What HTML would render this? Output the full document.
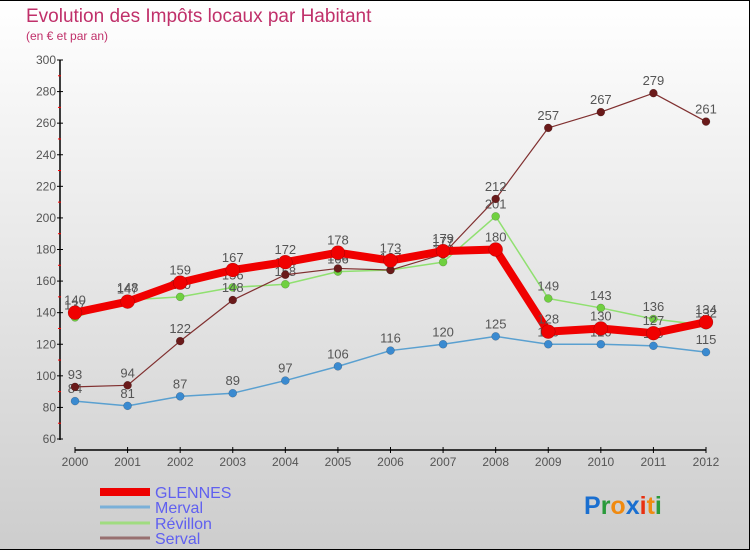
<!DOCTYPE html>
<html><head><meta charset="utf-8"><style>
body{margin:0;padding:0}
#wrap{position:relative;width:750px;height:550px;overflow:hidden}
svg{display:block}
text{font-family:"Liberation Sans",sans-serif}
</style></head><body>
<div id="wrap">
<svg id="chart" width="750" height="550" viewBox="0 0 750 550">
<defs><linearGradient id="bg" x1="0" y1="0" x2="0" y2="1"><stop offset="0" stop-color="#ffffff"/><stop offset="1" stop-color="#cdcdcd"/></linearGradient></defs>
<rect x="0" y="0" width="750" height="550" fill="url(#bg)"/>
<path d="M0,0.5H749.5V549.5H0" fill="none" stroke="#000" stroke-width="1"/>
<text x="26" y="22" font-size="19" fill="#c0306a">Evolution des Impôts locaux par Habitant</text>
<text x="26" y="40" font-size="12" fill="#c0306a">(en € et par an)</text>
<g id="axes"></g>
<g id="series"></g>
<g id="legend"></g>
<text x="584" y="514" font-size="25" font-weight="bold"><tspan fill="#1a6fd0">P</tspan><tspan fill="#2a9a3a">r</tspan><tspan fill="#f08a10">o</tspan><tspan fill="#1a6fd0">x</tspan><tspan fill="#e83010">i</tspan><tspan fill="#f08a10">t</tspan><tspan fill="#2a9a3a">i</tspan></text>
</svg>
</div>
<script>
const years = ['2000','2001','2002','2003','2004','2005','2006','2007','2008','2009','2010','2011','2012'];
const yTicks = [60,80,100,120,140,160,180,200,220,240,260,280,300];
const glennes = [140,147,159,167,172,178,173,179,180,128,130,127,134];
const merval = [84,81,87,89,97,106,116,120,125,120,120,119,115];
const revillon = [137,148,150,156,158,166,167,172,201,149,143,136,132];
const serval = [93,94,122,148,164,168,167,177,212,257,267,279,261];
const seriesNames = ['GLENNES','Merval','Révillon','Serval'];

const NS='http://www.w3.org/2000/svg';
function xPos(i){return 75+i*(706-75)/(years.length-1);}
function yPos(v){return 60+(300-v)*(439-60)/240;}
function mk(tag,attrs,parent){const e=document.createElementNS(NS,tag);for(const k in attrs)e.setAttribute(k,attrs[k]);parent.appendChild(e);return e;}
const axes=document.getElementById('axes');
let yl=mk('line',{x1:60,y1:60,x2:60,y2:440,stroke:'#000','stroke-width':1.5},axes);


yTicks.forEach((t,i)=>{
  const y=yPos(t);
  mk('line',{x1:57,y1:y,x2:63,y2:y,stroke:'#000'},axes);
  const tx=mk('text',{x:56,y:y+4,'font-size':12,fill:'#555','text-anchor':'end'},axes);
  tx.textContent=t;
  
  
  if(i<yTicks.length-1){const ym=yPos(t+10);mk('line',{x1:58,y1:ym,x2:61,y2:ym,stroke:'#f00'},axes);}
});
let xl=mk('line',{x1:75,y1:450,x2:706,y2:450,stroke:'#000','stroke-width':1.5},axes);


years.forEach((yr,i)=>{
  const x=xPos(i);
  mk('line',{x1:x,y1:447,x2:x,y2:453,stroke:'#000'},axes);
  const tx=mk('text',{x:x,y:466,'font-size':12,fill:'#555','text-anchor':'middle'},axes);
  tx.textContent=yr;
  
  
});
const sg=document.getElementById('series');
function drawSeries(vals,color,dot,width,r,name){
  const g=mk('g',{},sg);
  
  
  const pts=vals.map((v,i)=>xPos(i)+','+yPos(v)).join(' ');
  mk('polyline',{points:pts,fill:'none',stroke:color,'stroke-width':width,'stroke-linejoin':'round'},g);
  vals.forEach((v,i)=>{
    const c=mk('circle',{cx:xPos(i),cy:yPos(v),r:r,fill:dot,stroke:'rgba(0,0,0,0.3)','stroke-width':0.5},g);
    
    
    const t=mk('text',{x:xPos(i),y:yPos(v)-8,'font-size':13,fill:'#555','text-anchor':'middle'},g);
    t.textContent=v;
    
    
  });
}
drawSeries(merval,'#5aa0d0','#3a8ad0',1.5,4,'merval');
drawSeries(revillon,'#90e070','#70d040',1.5,4,'revillon');
drawSeries(serval,'#803030','#6a1a1a',1.2,4,'serval');
drawSeries(glennes,'#f00000','#f00000',8,7,'glennes');
const lg=document.getElementById('legend');
const lcol=['#ee0000','#7ab0d8','#a0dc80','#987070'];
const lw=[8,3,3,3];
const ly=[492,507,523,538];
seriesNames.forEach((n,i)=>{
  const g=mk('g',{},lg);
  
  
  mk('line',{x1:100,y1:ly[i],x2:150,y2:ly[i],stroke:lcol[i],'stroke-width':lw[i]},g);
  const t=mk('text',{x:155,y:ly[i]+6,'font-size':16,fill:'#6060f0'},g);
  t.textContent=n;
});
</script>
</body></html>
